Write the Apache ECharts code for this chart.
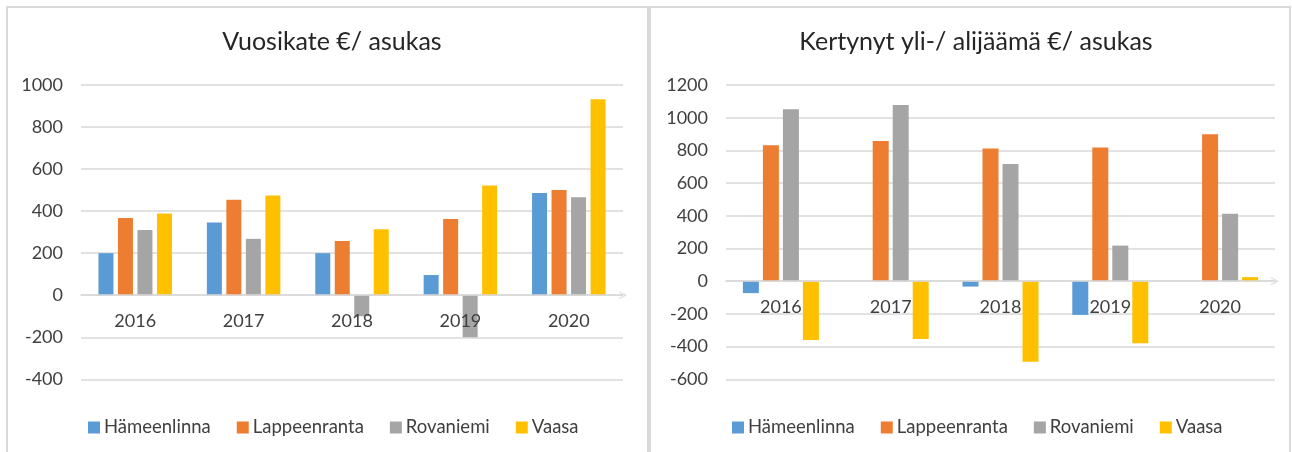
<!DOCTYPE html>
<html>
<head>
<meta charset="utf-8">
<script src="https://cdn.jsdelivr.net/npm/echarts@6/dist/echarts.min.js"></script>
<style>
  html, body { margin: 0; padding: 0; background: #fff; }
  #main { width: 1292px; height: 452px; }
</style>
</head>
<body>
<div id="main"></div>
<script>
    let years = ['2016', '2017', '2018', '2019', '2020'];
    let cities = ['Hämeenlinna', 'Lappeenranta', 'Rovaniemi', 'Vaasa'];
    let colors = ['#5B9BD5', '#ED7D31', '#A5A5A5', '#FFC000'];

    // Vuosikate €/ asukas
    let vkHameenlinna = [200, 346, 200, 96, 486];
    let vkLappeenranta = [367, 454, 258, 362, 501];
    let vkRovaniemi = [310, 268, -100, -200, 466];
    let vkVaasa = [389, 474, 314, 522, 932];

    // Kertynyt yli-/ alijäämä €/ asukas
    let kyHameenlinna = [-73, null, -33, -206, null];
    let kyLappeenranta = [831, 858, 812, 818, 899];
    let kyRovaniemi = [1052, 1078, 717, 218, 412];
    let kyVaasa = [-359, -353, -493, -379, 25];

    let leftTicks = {min: -400, max: 1000, interval: 200};
    let rightTicks = {min: -600, max: 1200, interval: 200};

    let font = 'Lato, "Open Sans", sans-serif';
    let labelColor = '#404040';
    let gridColor = '#d9d9d9';
    let gridTop = 85;
    let gridHeight = 294.3;

    function xAxisFor(gridIndex, ticks) {
        // put the category axis on the zero line (labels included)
        let zeroOffset = gridHeight * (0 - ticks.min) / (ticks.max - ticks.min);
        return {
            type: 'category',
            gridIndex: gridIndex,
            data: years,
            position: 'bottom',
            offset: -zeroOffset,
            z: 3, // year labels stay above the bars
            axisTick: {show: false},
            axisLine: {
                onZero: false,
                symbol: ['none', 'path://M0,10L5,0L10,10L8.6,10L5,2.8L1.4,10Z'],
                symbolSize: [11, 8],
                lineStyle: {color: gridColor, width: 1.5}
            },
            axisLabel: {
                interval: 0,
                margin: 17,
                color: labelColor,
                fontFamily: font,
                fontSize: 18
            }
        };
    }

    function yAxisFor(gridIndex, ticks) {
        return {
            type: 'value',
            gridIndex: gridIndex,
            min: ticks.min,
            max: ticks.max,
            interval: ticks.interval,
            axisLine: {show: false},
            axisTick: {show: false},
            splitLine: {lineStyle: {color: gridColor, width: 1.5}},
            axisLabel: {
                margin: 18,
                color: labelColor,
                fontFamily: font,
                fontSize: 18,
                formatter: function (value) {
                    return String(value);
                }
            }
        };
    }

    function barsFor(axisIndex, lists, width, gap) {
        return lists.map(function (list, i) {
            return {
                name: cities[i],
                type: 'bar',
                xAxisIndex: axisIndex,
                yAxisIndex: axisIndex,
                barWidth: width,
                barGap: gap,
                itemStyle: {color: colors[i]},
                data: list
            };
        });
    }

    function legendFor(left) {
        return {
            left: left,
            top: 413,
            itemWidth: 12,
            itemHeight: 12,
            itemGap: 26,
            icon: 'rect',
            textStyle: {color: labelColor, fontFamily: font, fontSize: 18.5, padding: [0, 0, 0, -1]},
            data: cities
        };
    }

    let chart = echarts.init(document.getElementById('main'));
    let option = {
        animation: false,
        color: colors,
        title: [{
            text: 'Vuosikate €/ asukas',
            left: 327,
            top: 24,
            textAlign: 'center',
            textStyle: {color: '#262626', fontFamily: font, fontSize: 25, fontWeight: 'normal'}
        }, {
            text: 'Kertynyt yli-/ alijäämä €/ asukas',
            left: 971,
            top: 24,
            textAlign: 'center',
            textStyle: {color: '#262626', fontFamily: font, fontSize: 25, fontWeight: 'normal'}
        }],
        legend: [legendFor(83), legendFor(727)],
        grid: [
            {left: 81, right: 669, top: gridTop, height: gridHeight},
            {left: 726, right: 17, top: gridTop, height: gridHeight}
        ],
        xAxis: [xAxisFor(0, leftTicks), xAxisFor(1, rightTicks)],
        yAxis: [yAxisFor(0, leftTicks), yAxisFor(1, rightTicks)],
        series: barsFor(0, [vkHameenlinna, vkLappeenranta, vkRovaniemi, vkVaasa], 15, '30%')
            .concat(barsFor(1, [kyHameenlinna, kyLappeenranta, kyRovaniemi, kyVaasa], 16, '25%')),
        graphic: [{
            type: 'rect',
            silent: true,
            shape: {x: 7, y: 7, width: 641, height: 470},
            style: {fill: 'none', stroke: gridColor, lineWidth: 2}
        }, {
            type: 'rect',
            silent: true,
            shape: {x: 650, y: 7, width: 640, height: 470},
            style: {fill: 'none', stroke: gridColor, lineWidth: 2}
        }]
    };
    chart.setOption(option);
</script>
</body>
</html>
